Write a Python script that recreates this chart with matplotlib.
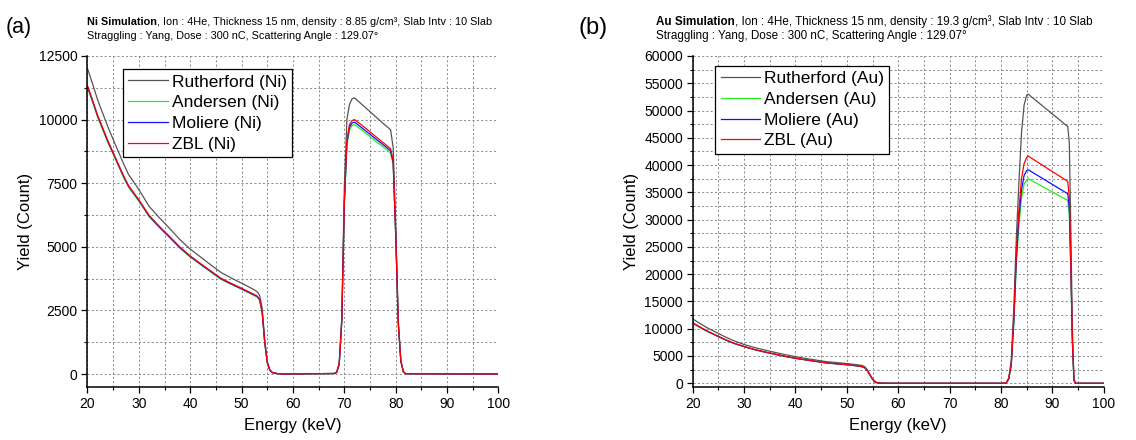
import matplotlib
matplotlib.use("Agg")
import matplotlib.pyplot as plt
from matplotlib.ticker import MultipleLocator

plt.rcParams["font.family"] = ["Liberation Sans", "DejaVu Sans"]

# ---------------- Ni film spectra ----------------
ni_energy = [20, 21, 22, 23, 24, 25, 26, 27, 28,
             30, 32, 34, 36, 38, 40, 42, 44, 46, 48, 50, 52,
             53, 53.5, 54, 54.5, 55, 55.5, 56, 57, 58,
             68, 68.5, 69, 69.5, 70, 70.5, 71, 71.5, 72,
             74, 76, 78, 79,
             79.5, 80, 80.5, 81, 81.5, 82,
             100]
ni_rutherford = [12010, 11400, 10760, 10230, 9700, 9220, 8750, 8270, 7840,
                 7250, 6590, 6140, 5720, 5280, 4910, 4600, 4290, 3990, 3770, 3570, 3360,
                 3240, 3100, 2600, 1350, 480, 160, 58, 15, 0,
                 20, 70, 420, 2200, 7400, 10000, 10600, 10820, 10850,
                 10490, 10130, 9770, 9600,
                 8900, 5800, 2100, 520, 80, 10,
                 0]
ni_andersen = [11250, 10680, 10080, 9580, 9080, 8640, 8190, 7740, 7340,
               6790, 6180, 5750, 5350, 4940, 4600, 4300, 4010, 3720, 3520, 3330, 3130,
               3030, 2910, 2420, 1230, 440, 145, 52, 14, 0,
               18, 55, 380, 2050, 6650, 9000, 9600, 9760, 9800,
               9490, 9170, 8850, 8680,
               8250, 5400, 1950, 480, 75, 10,
               0]
ni_moliere = [11300, 10730, 10130, 9630, 9130, 8680, 8230, 7780, 7380,
              6830, 6210, 5780, 5380, 4970, 4620, 4320, 4030, 3740, 3540, 3350, 3150,
              3050, 2930, 2440, 1240, 445, 148, 54, 15, 0,
              19, 58, 390, 2080, 6720, 9100, 9700, 9860, 9900,
              9580, 9260, 8940, 8770,
              8320, 5450, 1980, 490, 78, 10,
              0]
ni_zbl = [11330, 10750, 10150, 9650, 9150, 8700, 8250, 7800, 7400,
          6850, 6230, 5800, 5400, 4990, 4640, 4340, 4050, 3760, 3560, 3370, 3170,
          3070, 2950, 2450, 1250, 450, 150, 55, 15, 0,
          20, 60, 400, 2100, 6800, 9200, 9800, 9960, 10000,
          9680, 9350, 9020, 8850,
          8400, 5500, 2000, 500, 80, 10,
          0]

# ---------------- Au film spectra ----------------
au_energy = [20, 21, 22, 23, 24, 25, 26, 27, 28,
             30, 32, 34, 36, 38, 40, 42, 44, 46, 48, 50, 52,
             53, 53.5, 54, 54.5, 55, 55.5, 56, 57, 58,
             80.5, 81, 81.5, 82, 82.5, 83, 83.5, 84, 84.5, 85, 85.3,
             87, 89, 91, 93,
             93.3, 93.6, 93.9, 94.2, 94.5,
             100]
au_rutherford = [11800, 11200, 10620, 10080, 9600, 9130, 8650, 8220, 7800,
                 7100, 6560, 6090, 5660, 5240, 4870, 4550, 4250, 3970, 3790, 3620, 3390,
                 3260, 3020, 2450, 1600, 800, 270, 65, 10, 0,
                 0, 60, 950, 4200, 14000, 27000, 37000, 46000, 51000, 52800, 53000,
                 51690, 50140, 48600, 47050,
                 44000, 28000, 10000, 800, 0,
                 0]
au_andersen = [11000, 10460, 9920, 9430, 8980, 8530, 8090, 7690, 7300,
               6700, 6160, 5710, 5310, 4910, 4560, 4270, 3990, 3720, 3550, 3390, 3170,
               3030, 2820, 2280, 1480, 740, 245, 58, 9, 0,
               0, 50, 760, 3300, 11000, 22000, 29000, 34000, 36500, 37300, 37490,
               36610, 35580, 34540, 33510,
               31000, 20000, 7300, 520, 0,
               0]
au_moliere = [11050, 10500, 9960, 9460, 9010, 8560, 8120, 7720, 7320,
              6730, 6180, 5730, 5330, 4930, 4580, 4290, 4010, 3740, 3570, 3410, 3190,
              3040, 2840, 2290, 1490, 745, 248, 59, 10, 0,
              0, 50, 780, 3400, 11500, 23000, 30500, 35500, 38100, 39000, 39140,
              38170, 37030, 35880, 34740,
              32000, 21000, 7600, 550, 0,
              0]
au_zbl = [11100, 10550, 10000, 9500, 9050, 8600, 8150, 7750, 7350,
          6750, 6200, 5750, 5350, 4950, 4600, 4300, 4020, 3750, 3580, 3420, 3200,
          3050, 2850, 2300, 1500, 750, 250, 60, 10, 0,
          0, 50, 800, 3500, 12000, 24000, 32000, 37500, 40300, 41400, 41650,
          40620, 39420, 38210, 37000,
          34000, 22000, 8000, 600, 0,
          0]

model_names = ["Rutherford", "Andersen", "Moliere", "ZBL"]
model_colors = ["#555555", "#22ee22", "#1010ff", "#ff0000"]

panels = [
    dict(tag="(a)", elem="Ni", density="8.85", energy=ni_energy,
         series=[ni_rutherford, ni_andersen, ni_moliere, ni_zbl],
         ylim=(-510, 12500), major=2500, minor=1250,
         left=0.0770, title_x=0.0766, title_size=7.8,
         tag_x=0.005, tag_size=15.5, legend_anchor=(0.087, 0.96)),
    dict(tag="(b)", elem="Au", density="19.3", energy=au_energy,
         series=[au_rutherford, au_andersen, au_moliere, au_zbl],
         ylim=(-680, 60000), major=5000, minor=2500,
         left=0.6098, title_x=0.5775, title_size=8.4,
         tag_x=0.5095, tag_size=17, legend_anchor=(0.055, 0.97)),
]

fig = plt.figure(figsize=(11.36, 4.40), dpi=100)

for p in panels:
    ax = fig.add_axes([p["left"], 0.1205, 0.3618, 0.7523])
    for name, color, ys in zip(model_names, model_colors, p["series"]):
        ax.plot(p["energy"], ys, color=color, lw=0.9,
                label=f"{name} ({p['elem']})")

    ax.set_xlim(20, 100)
    ax.set_ylim(*p["ylim"])
    ax.xaxis.set_major_locator(MultipleLocator(10))
    ax.xaxis.set_minor_locator(MultipleLocator(5))
    ax.yaxis.set_major_locator(MultipleLocator(p["major"]))
    ax.yaxis.set_minor_locator(MultipleLocator(p["minor"]))

    for which in ("major", "minor"):
        ax.grid(True, which=which, color="#8c8c8c", lw=0.7,
                linestyle=(0, (2.2, 2.2)))
    ax.set_axisbelow(True)

    for s in ("top", "right"):
        ax.spines[s].set_visible(False)
    for s in ("left", "bottom"):
        ax.spines[s].set_linewidth(1.1)
    ax.tick_params(which="major", direction="out", length=4, width=0.9,
                   labelsize=10, pad=3)
    ax.tick_params(which="minor", direction="out", length=2.5, width=0.8)

    ax.set_xlabel("Energy (keV)", fontsize=12, labelpad=5)
    ax.set_ylabel("Yield (Count)", fontsize=12, labelpad=4)

    leg = ax.legend(loc="upper left", bbox_to_anchor=p["legend_anchor"],
                    fontsize=12.5, frameon=True, fancybox=False,
                    edgecolor="black", framealpha=1, handlelength=2.3,
                    handletextpad=0.2, labelspacing=0.32, borderpad=0.3,
                    borderaxespad=0)
    leg.get_frame().set_linewidth(0.9)

    # panel tag and simulation parameters
    fig.text(p["tag_x"], 0.937, p["tag"], fontsize=p["tag_size"],
             ha="left", va="center")
    x0 = p["title_x"]
    bold = fig.text(x0, 0.944, f"{p['elem']} Simulation",
                    fontsize=p["title_size"], fontweight="bold",
                    ha="left", va="baseline")
    ax.annotate(f", Ion : 4He, Thickness 15 nm, density : {p['density']} g/cm\u00b3, "
                "Slab Intv : 10 Slab", xy=(1, 0), xycoords=bold,
                fontsize=p["title_size"], ha="left", va="bottom")
    fig.text(x0, 0.912,
             "Straggling : Yang, Dose : 300 nC, Scattering Angle : 129.07\u00b0",
             fontsize=p["title_size"], ha="left", va="baseline")

fig.savefig("out.png", dpi=100)
